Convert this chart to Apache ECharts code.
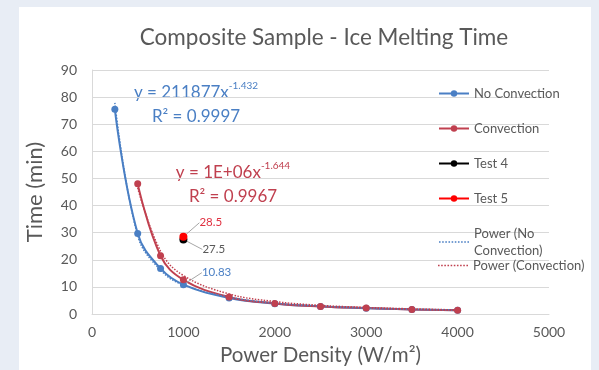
<!DOCTYPE html>
<html>
<head>
<meta charset="utf-8">
<script src="https://cdn.jsdelivr.net/npm/echarts@6/dist/echarts.min.js"></script>
<style>
  html, body { margin: 0; padding: 0; background: #e8edf5; }
  #card { position: absolute; left: 19px; top: 7px; width: 572px; height: 370px; background: #fff; }
  #chart { position: absolute; left: 0; top: 0; width: 599px; height: 370px; }
</style>
</head>
<body>
<div id="card"></div>
<div id="chart"></div>
<script>
// x values (W/m2)
const noConvX = [250, 500, 750, 1000, 1500, 2000, 2500, 3000, 3500, 4000]
const noConvY = [75.5, 29.7, 16.8, 10.83, 5.9, 3.8, 2.8, 2.1, 1.7, 1.35]
const convX = [500, 750, 1000, 1500, 2000, 2500, 3000, 3500, 4000]
const convY = [48, 21.5, 12.6, 6.3, 3.9, 2.8, 2.2, 1.7, 1.4]
const test4 = [1000, 27.5]
const test5 = [1000, 28.5]
// trendlines
const trendNoConvY = [77.9, 28.9, 16.2, 10.7, 6.3, 4.0, 2.9, 2.2, 1.7, 1.5]
const trendConvY = [46.5, 23.2, 14.2, 7.4, 4.6, 3.2, 2.4, 1.9, 1.5]
const xTicks = [0, 1000, 2000, 3000, 4000, 5000]
const yTicks = [0, 10, 20, 30, 40, 50, 60, 70, 80, 90]

const BLUE = '#4a7fc4'
const RED = '#c0404f'
const TXT = '#595959'
const FONT = 'Lato'

const zip = (xs, ys) => xs.map((x, i) => [x, ys[i]])

const labelLine = { show: true, lineStyle: { color: '#a6a6a6', width: 1 } }

// dotted legend icon for the trendlines
const dottedIcon = 'path://' + Array.from({ length: 10 }, (_, i) => `M${i * 3},0h1.5v1.5h-1.5z`).join('')

const eqRich = (color) => ({
  m: { fontFamily: FONT, fontSize: 17, fill: color, lineHeight: 24 },
  s: { fontFamily: FONT, fontSize: 10, fill: color, lineHeight: 16, verticalAlign: 'top' }
})

const chart = echarts.init(document.getElementById('chart'))
chart.setOption({
  backgroundColor: 'transparent',
  textStyle: { fontFamily: FONT },
  title: {
    text: 'Composite Sample - Ice Melting Time',
    left: 319, top: 21, textAlign: 'center',
    textStyle: { fontFamily: FONT, fontSize: 22.5, fontWeight: 'normal', color: TXT }
  },
  grid: { left: 92, right: 50, top: 70, bottom: 56, outerBoundsMode: 'none' },
  legend: [
    {
      orient: 'vertical', left: 433, top: 80, itemGap: 18,
      itemWidth: 30, itemHeight: 8,
      textStyle: { fontFamily: FONT, fontSize: 13, color: TXT, lineHeight: 17 },
      data: ['No Convection', 'Convection', 'Test 4', 'Test 5',
        { name: 'Power (No Convection)', icon: dottedIcon, itemStyle: { color: BLUE } }],
      formatter: (n) => n === 'Power (No Convection)' ? 'Power (No\nConvection)' : n
    },
    {
      orient: 'vertical', left: 433, top: 254,
      itemWidth: 30, itemHeight: 8,
      textStyle: { fontFamily: FONT, fontSize: 13, color: TXT },
      data: [{ name: 'Power (Convection)', icon: dottedIcon, itemStyle: { color: RED } }]
    }
  ],
  xAxis: {
    type: 'value', min: xTicks[0], max: xTicks[xTicks.length - 1], interval: 1000,
    name: 'Power Density (W/m²)', nameLocation: 'middle', nameGap: 31,
    nameTextStyle: { fontFamily: FONT, fontSize: 20.5, color: TXT },
    axisLine: { show: true, lineStyle: { color: '#d9d9d9' } },
    axisTick: { show: false },
    splitLine: { show: false },
    axisLabel: { fontFamily: FONT, fontSize: 14, color: TXT, margin: 11, formatter: (v) => String(v) }
  },
  yAxis: {
    type: 'value', min: yTicks[0], max: yTicks[yTicks.length - 1], interval: 10,
    name: 'Time (min)', nameLocation: 'middle', nameGap: 46,
    nameTextStyle: { fontFamily: FONT, fontSize: 22, color: TXT },
    axisLine: { show: true, lineStyle: { color: '#d9d9d9' } },
    axisTick: { show: false },
    splitLine: { lineStyle: { color: '#d9d9d9' } },
    axisLabel: { fontFamily: FONT, fontSize: 14, color: TXT, margin: 15 }
  },
  series: [
    {
      name: 'No Convection', type: 'line', smooth: 0.4,
      symbol: 'circle', symbolSize: 7,
      itemStyle: { color: BLUE }, lineStyle: { color: BLUE, width: 2 },
      data: zip(noConvX, noConvY).map((p) => p[0] === 1000
        ? { value: p, label: { show: true, position: 'right', color: BLUE, fontSize: 11.5, formatter: (q) => q.value[1] } }
        : p),
      labelLayout: { dx: 10, dy: -12 },
      labelLine
    },
    {
      name: 'Convection', type: 'line', smooth: 0.4,
      symbol: 'circle', symbolSize: 7,
      itemStyle: { color: RED }, lineStyle: { color: RED, width: 2 },
      data: zip(convX, convY)
    },
    {
      name: 'Test 4', type: 'line',
      symbol: 'circle', symbolSize: 8,
      itemStyle: { color: '#000' }, lineStyle: { color: '#000', width: 2 },
      data: [test4],
      label: { show: true, position: 'right', color: TXT, fontSize: 11.5, formatter: (q) => q.value[1] },
      labelLayout: { dx: 10, dy: 10 },
      labelLine
    },
    {
      name: 'Test 5', type: 'line',
      symbol: 'circle', symbolSize: 8,
      itemStyle: { color: '#ff0000' }, lineStyle: { color: '#ff0000', width: 2 },
      data: [test5],
      label: { show: true, position: 'right', color: '#e03040', fontSize: 11.5, formatter: (q) => q.value[1] },
      labelLayout: { dx: 7, dy: -14 },
      labelLine
    },
    {
      name: 'Power (No Convection)', type: 'line', smooth: 0.4, symbol: 'none',
      itemStyle: { color: BLUE },
      lineStyle: { color: BLUE, width: 1.5, type: [1.5, 1.5] },
      data: zip(noConvX, trendNoConvY), z: 3
    },
    {
      name: 'Power (Convection)', type: 'line', smooth: 0.4, symbol: 'none',
      itemStyle: { color: RED },
      lineStyle: { color: RED, width: 1.5, type: [1.5, 1.5] },
      data: zip(convX, trendConvY), z: 3
    }
  ],
  graphic: [
    {
      type: 'text', x: 196, y: 81,
      style: {
        text: '{m|y = 211877x}{s|-1.432}\n{m|R² = 0.9997}',
        align: 'center',
        rich: eqRich(BLUE)
      }
    },
    {
      type: 'text', x: 233, y: 161,
      style: {
        text: '{m|y = 1E+06x}{s|-1.644}\n{m|R² = 0.9967}',
        align: 'center',
        rich: eqRich(RED)
      }
    }
  ]
})
</script>
</body>
</html>
